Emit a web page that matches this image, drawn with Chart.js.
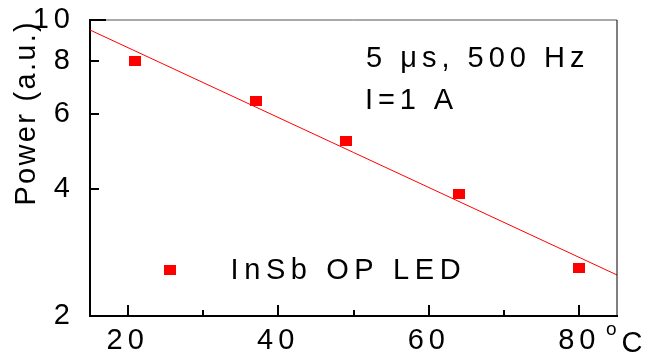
<!DOCTYPE html>
<html><head><meta charset="utf-8">
<script src="https://cdn.jsdelivr.net/npm/chart.js@4.4.1/dist/chart.umd.min.js"></script>
<style>html,body{margin:0;padding:0;background:#fff;} canvas{display:block;}</style>
</head><body>
<canvas id="c" width="650" height="356"></canvas>
<script>
// ---- data ----
const temperatures = [21, 37, 49, 64, 80];
const powers = [8.0, 6.45, 5.17, 3.88, 2.59];
const fitTemperatures = [15, 85];
const fitPowers = [9.47, 2.50];
const xTickValues = [20, 30, 40, 50, 60, 70, 80];
const xLabelValues = [20, 40, 60, 80];
const yTickValues = [2, 4, 6, 8, 10];
const seriesLabel = 'InSb OP LED';
const yTitle = 'Power (a.u.)';
const xUnit = 'C';
const notes = ['5 \u03bcs, 500 Hz', 'I=1 A'];

const FONT = '"Liberation Sans", Arial, Helvetica, sans-serif';
const FS = 29;
Chart.defaults.font.family = FONT;
Chart.defaults.color = '#000';
const RED = '#ff0000';

const marker = document.createElement('canvas');
marker.width = 12; marker.height = 10;
const mctx = marker.getContext('2d');
mctx.fillStyle = RED; mctx.fillRect(0, 0, 12, 10);

const decor = {
  id: 'decor',
  beforeDraw(chart) {
    chart.ctx.letterSpacing = '5px';
    const ys = chart.scales.y;
    if (!ys._wrappedTitle) {
      const orig = ys.drawTitle;
      ys.drawTitle = function () {
        const c = this.ctx; const p = c.letterSpacing;
        c.letterSpacing = '2.3px'; orig.call(this); c.letterSpacing = p;
      };
      ys._wrappedTitle = true;
    }
  },
  afterDatasetsDraw(chart) {
    const {ctx, chartArea: a, scales: {x, y}} = chart;
    ctx.save();
    // top & right frame
    ctx.lineWidth = 1;
    ctx.strokeStyle = '#555';
    ctx.beginPath(); ctx.moveTo(a.left, a.top); ctx.lineTo(a.right, a.top); ctx.stroke();
    ctx.strokeStyle = '#000';
    ctx.beginPath(); ctx.moveTo(a.right, a.top); ctx.lineTo(a.right, a.bottom); ctx.stroke();
    // inward ticks
    ctx.lineWidth = 2; ctx.strokeStyle = '#000';
    xTickValues.forEach(v => {
      const px = Math.round(x.getPixelForValue(v));
      const len = xLabelValues.includes(v) ? 11 : 6;
      ctx.beginPath(); ctx.moveTo(px, a.bottom); ctx.lineTo(px, a.bottom - len); ctx.stroke();
    });
    yTickValues.forEach(v => {
      const py = Math.round(y.getPixelForValue(v));
      const len = v === 10 ? 16 : 9;
      ctx.beginPath(); ctx.moveTo(a.left, py); ctx.lineTo(a.left + len, py); ctx.stroke();
    });
    ctx.restore();
  },
  afterDraw(chart) {
    const {ctx} = chart;
    ctx.save();
    ctx.fillStyle = '#000'; ctx.textAlign = 'left'; ctx.textBaseline = 'alphabetic';
    ctx.font = FS + 'px ' + FONT;
    ctx.letterSpacing = '5px';
    ctx.fillText(notes[0], 366, 67);
    ctx.letterSpacing = '4.9px';
    ctx.fillText(notes[1], 365, 109);
    // legend
    ctx.drawImage(marker, 169.5 - 6, 269.5 - 5);
    ctx.letterSpacing = '5.6px';
    ctx.fillText(chart.data.datasets[0].label, 230.5, 279);
    // unit
    ctx.letterSpacing = '0px';
    ctx.font = '19px ' + FONT;
    ctx.fillText('o', 606, 335);
    ctx.font = FS + 'px ' + FONT;
    ctx.fillText(xUnit, 621.5, 352);
    ctx.restore();
    ctx.letterSpacing = '0px';
  }
};

new Chart(document.getElementById('c'), {
  type: 'scatter',
  data: {
    datasets: [
      {
        label: seriesLabel,
        data: temperatures.map((t, i) => ({x: t, y: powers[i]})),
        pointStyle: marker,
        pointRadius: 6,
        backgroundColor: RED,
        borderColor: RED
      },
      {
        type: 'line',
        label: 'fit',
        data: fitTemperatures.map((t, i) => ({x: t, y: fitPowers[i]})),
        borderColor: RED,
        borderWidth: 1,
        pointRadius: 0,
        fill: false,
        tension: 0
      }
    ]
  },
  options: {
    responsive: false,
    animation: false,
    events: [],
    layout: {padding: {left: 0, top: 20, right: 33, bottom: 0}},
    plugins: {legend: {display: false}, tooltip: {enabled: false}},
    scales: {
      x: {
        type: 'linear', min: 15, max: 85,
        afterBuildTicks: s => { s.ticks = xTickValues.map(v => ({value: v})); },
        afterFit: s => { s.height = 40; s.paddingLeft = 0; s.paddingRight = 0; },
        grid: {display: false, drawTicks: false},
        border: {display: true, color: '#000', width: 2},
        ticks: {
          font: {size: FS}, padding: 8, autoSkip: false, maxRotation: 0, minRotation: 0,
          callback: v => xLabelValues.includes(v) ? String(v) : ''
        }
      },
      y: {
        type: 'logarithmic', min: 2, max: 10,
        afterBuildTicks: s => { s.ticks = yTickValues.map(v => ({value: v})); },
        afterFit: s => { s.width = 90; s.paddingTop = 0; s.paddingBottom = 0; },
        grid: {display: false, drawTicks: false},
        border: {display: true, color: '#000', width: 2},
        title: {display: true, text: yTitle, align: 'end', font: {size: FS}, padding: {top: 10, bottom: 0}},
        ticks: {font: {size: FS}, padding: 15, callback: v => String(v)}
      }
    }
  },
  plugins: [decor]
});
</script>
</body></html>
